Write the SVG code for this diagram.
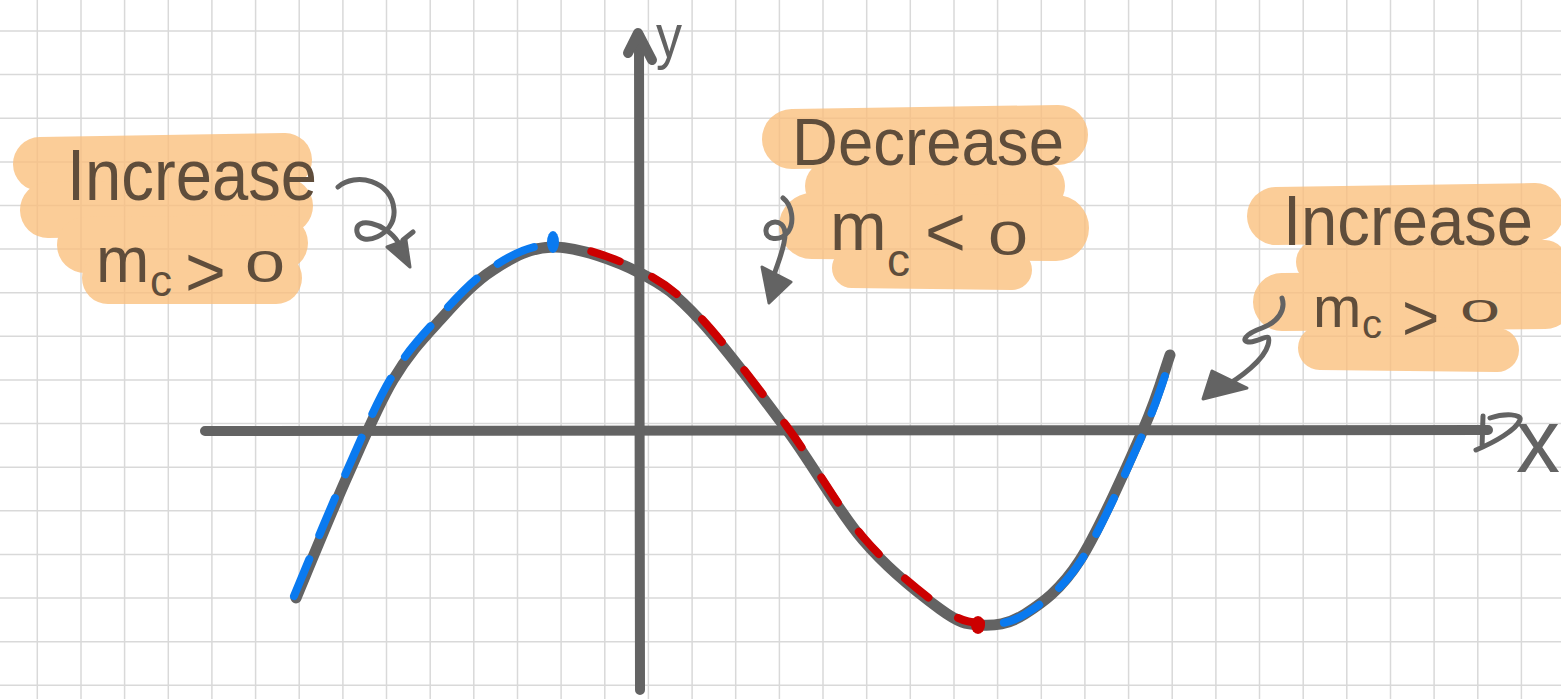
<svg xmlns="http://www.w3.org/2000/svg" width="1561" height="699" viewBox="0 0 1561 699">
<style>
.grid{stroke:#d9d9d9;stroke-width:1.5;fill:none}
.hl line{stroke:#fbbf7c;stroke-linecap:round}
.ax{stroke:#636363;stroke-width:10;fill:none;stroke-linecap:round;stroke-linejoin:round}
.pen{stroke:#636363;stroke-width:5;fill:none;stroke-linecap:round;stroke-linejoin:round}
.head{fill:#636363;stroke:#636363;stroke-width:3;stroke-linejoin:round}
.curve{stroke:#636363;stroke-width:11;fill:none;stroke-linecap:round}
.blue{stroke:#0a7af0;stroke-width:8;fill:none;stroke-linecap:round;stroke-dasharray:40 26}
.red{stroke:#cc0000;stroke-width:8;fill:none;stroke-linecap:round;stroke-dasharray:30 36}
.hw{fill:#5f4d3b;font-family:"Liberation Sans",Arial,sans-serif}
.lbl{fill:#636363;font-family:"Liberation Sans",Arial,sans-serif}
</style>
<rect width="1561" height="699" fill="#ffffff"/>
<path class="grid" d="M37.3,0V699M81,0V699M124.6,0V699M168.3,0V699M211.9,0V699M255.6,0V699M299.2,0V699M342.9,0V699M386.5,0V699M430.2,0V699M473.8,0V699M517.5,0V699M561.1,0V699M604.8,0V699M648.4,0V699M692.1,0V699M735.7,0V699M779.4,0V699M823,0V699M866.7,0V699M910.3,0V699M954,0V699M997.6,0V699M1041.3,0V699M1084.9,0V699M1128.6,0V699M1172.2,0V699M1215.9,0V699M1259.5,0V699M1303.2,0V699M1346.8,0V699M1390.5,0V699M1434.1,0V699M1477.8,0V699M1521.4,0V699M0,31H1561M0,74.6H1561M0,118.2H1561M0,161.9H1561M0,205.5H1561M0,249.1H1561M0,292.7H1561M0,336.3H1561M0,380H1561M0,423.6H1561M0,467.2H1561M0,510.8H1561M0,554.4H1561M0,598.1H1561M0,641.7H1561M0,685.3H1561"/>

<g id="highlight-left" class="hl" opacity="0.78">
<line x1="40" y1="164" x2="285" y2="160" stroke-width="54"/>
<line x1="48" y1="210" x2="285" y2="206" stroke-width="56"/>
<line x1="85" y1="245" x2="280" y2="243" stroke-width="56"/>
<line x1="108" y1="278" x2="276" y2="278" stroke-width="52"/>
</g>
<g id="highlight-middle" class="hl" opacity="0.78">
<line x1="792" y1="139" x2="1058" y2="135" stroke-width="60"/>
<line x1="830" y1="186" x2="1040" y2="186" stroke-width="50"/>
<line x1="812" y1="226" x2="1056" y2="228" stroke-width="66"/>
<line x1="852" y1="268" x2="1012" y2="270" stroke-width="40"/>
</g>
<g id="highlight-right" class="hl" opacity="0.78">
<line x1="1276" y1="216" x2="1535" y2="212" stroke-width="58"/>
<line x1="1318" y1="262" x2="1545" y2="262" stroke-width="44"/>
<line x1="1282" y1="302" x2="1545" y2="300" stroke-width="58"/>
<line x1="1320" y1="348" x2="1497" y2="350" stroke-width="44"/>
</g>

<g id="axes">
<line class="ax" x1="205" y1="431" x2="1488" y2="430"/>
<line class="ax" x1="640" y1="690" x2="639" y2="36"/>
<path class="ax" stroke-width="8" d="M628,53 L638,33 L652,60"/>
<path class="pen" stroke-width="7" d="M1483,416 L1482,447 M1490,418 C1505,413 1522,414 1520,420 C1516,430 1495,442 1476,450"/>
<text class="lbl" x="656" y="57" font-size="62" textLength="26" lengthAdjust="spacingAndGlyphs">y</text>
<text class="lbl" x="1516" y="472" font-size="90" textLength="44" lengthAdjust="spacingAndGlyphs">x</text>
</g>

<g id="curve">
<path class="curve" d="M296,598 C304.5,577.8 330.8,513.3 347,477 C363.2,440.7 377.5,406.2 393,380 C408.5,353.8 423.3,338.3 440,320 C456.7,301.7 473.8,282.2 493,270 C512.2,257.8 530.5,246.5 555,247 C579.5,247.5 615.8,260.8 640,273 C664.2,285.2 675.5,293.8 700,320 C724.5,346.2 759.8,393.3 787,430 C814.2,466.7 837.5,510.2 863,540 C888.5,569.8 920.5,594.8 940,609 C959.5,623.2 965.8,624.2 980,625 C994.2,625.8 1008.3,624.8 1025,614 C1041.7,603.2 1060.3,590.7 1080,560 C1099.7,529.3 1128,464.2 1143,430 C1158,395.8 1165.5,367.5 1170,355"/>
<path class="blue" transform="translate(-2,-2)" d="M296,598 C304.5,577.8 330.8,513.3 347,477 C363.2,440.7 377.5,406.2 393,380 C408.5,353.8 423.3,338.3 440,320 C456.7,301.7 473.8,282.2 493,270 C512.2,257.8 530.5,246.5 555,247"/>
<path class="red" stroke-dashoffset="30" transform="translate(1,-2)" d="M555,247 C579.5,247.5 615.8,260.8 640,273 C664.2,285.2 675.5,293.8 700,320 C724.5,346.2 759.8,393.3 787,430 C814.2,466.7 837.5,510.2 863,540 C888.5,569.8 920.5,594.8 940,609 C959.5,623.2 965.8,624.2 980,625"/>
<path class="blue" stroke-dashoffset="-22" transform="translate(2,-1)" d="M980,625 C994.2,625.8 1008.3,624.8 1025,614 C1041.7,603.2 1060.3,590.7 1080,560 C1099.7,529.3 1128,464.2 1143,430 C1158,395.8 1165.5,367.5 1170,355"/>
<ellipse cx="553" cy="242" rx="6" ry="11" fill="#0a7af0"/>
<ellipse cx="978" cy="625" rx="7" ry="9" fill="#cc0000"/>
</g>

<g id="connectors">
<path class="pen" d="M338,187 C355,172 392,180 394,210 C396,236 360,248 357,232 C354,216 385,222 398,242 L404,254 M403,240 L413,232"/>
<polygon class="head" points="410,267 387,247 406,240"/>
<path class="pen" d="M783,198 C792,205 795,222 788,232 C780,242 765,240 766,230 C767,220 783,218 785,232 C786,245 778,262 774,275"/>
<polygon class="head" points="762,267 791,282 769,303"/>
<path class="pen" d="M1282,298 C1286,310 1278,322 1262,328 C1245,334 1240,342 1250,342 C1262,341 1272,330 1268,345 C1264,360 1240,378 1222,388"/>
<polygon class="head" points="1203,399 1212,371 1247,388"/>
</g>

<g id="label-left">
<text class="hw" x="67" y="200" font-size="72" textLength="250" lengthAdjust="spacingAndGlyphs">Increase</text>
<text class="hw" font-size="64"><tspan x="96" y="282">m</tspan><tspan x="150" y="296" font-size="44">c</tspan><tspan x="185" y="296" font-size="70">&gt;</tspan><tspan x="245" y="282" font-size="44" textLength="40" lengthAdjust="spacingAndGlyphs">0</tspan></text>
</g>
<g id="label-middle">
<text class="hw" x="792" y="165" font-size="67" textLength="272" lengthAdjust="spacingAndGlyphs">Decrease</text>
<text class="hw" font-size="68"><tspan x="830" y="250">m</tspan><tspan x="887" y="276" font-size="46">c</tspan><tspan x="925" y="256" font-size="70">&lt;</tspan><tspan x="988" y="255" font-size="48" textLength="40" lengthAdjust="spacingAndGlyphs">0</tspan></text>
</g>
<g id="label-right">
<text class="hw" x="1283" y="245" font-size="70" textLength="250" lengthAdjust="spacingAndGlyphs">Increase</text>
<text class="hw" font-size="58"><tspan x="1313" y="327">m</tspan><tspan x="1362" y="338" font-size="40">c</tspan><tspan x="1402" y="340" font-size="64">&gt;</tspan><tspan x="1460" y="322" font-size="31" textLength="40" lengthAdjust="spacingAndGlyphs">0</tspan></text>
</g>
</svg>
